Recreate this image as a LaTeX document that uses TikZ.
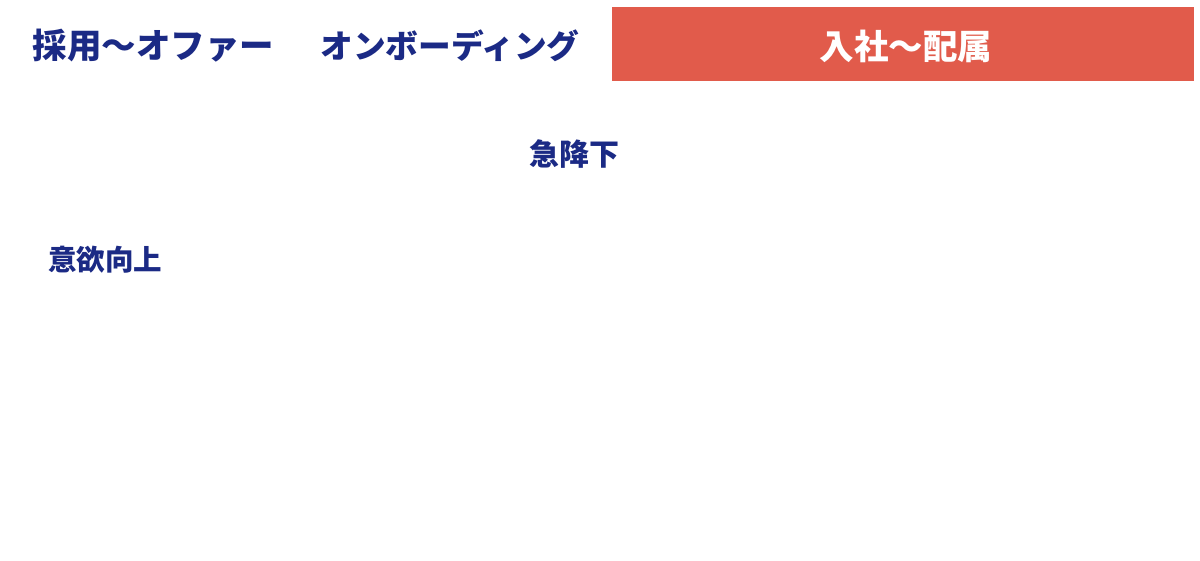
\documentclass[tikz,border=0pt]{standalone}
\usepackage{fontspec}
\setmainfont{Noto Sans CJK JP}
\definecolor{navy}{HTML}{1B2A85}
\definecolor{redbox}{HTML}{E15B4B}
\tikzset{
  head/.style={font=\fontsize{34.5}{38}\selectfont\bfseries, text=navy, inner sep=0pt},
  headb/.style={font=\fontsize{32.7}{36}\selectfont\bfseries, text=navy, inner sep=0pt},
  lbl/.style={font=\fontsize{30}{34}\selectfont\bfseries, text=navy, inner sep=0pt},
  lblb/.style={font=\fontsize{28.5}{32}\selectfont\bfseries, text=navy, inner sep=0pt},
}
\begin{document}
\begin{tikzpicture}[x=1pt,y=-1pt]
\useasboundingbox[fill=white] (0,0) rectangle (1200,560);
\fill[redbox] (612,7) rectangle (1194,81);
\node[head] (h1) at (153.5,46) {採用〜オファー};
\node[headb] (h2) at (450,46) {オンボーディング};
\node[head, text=white] (h3) at (906,46) {入社〜配属};
\node[lbl] (l1) at (574,154) {急降下};
\node[lblb] (l2) at (105.5,260) {意欲向上};
\end{tikzpicture}
\end{document}
